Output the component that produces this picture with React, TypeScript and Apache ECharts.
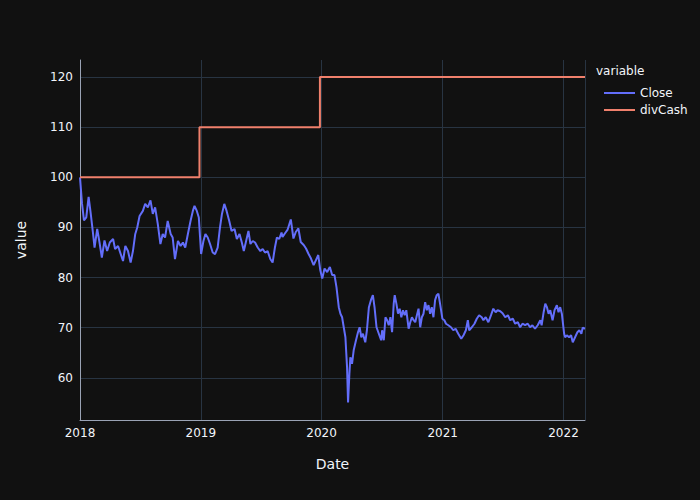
import React, { useEffect, useRef } from "react";
import * as echarts from "echarts";

const closeDates = [
  "2018-01-01","2018-01-07","2018-01-13","2018-01-20","2018-01-27","2018-02-02","2018-02-09","2018-02-14","2018-02-22","2018-03-01",
  "2018-03-08","2018-03-16","2018-03-24","2018-04-01","2018-04-11","2018-04-17","2018-04-26","2018-05-06","2018-05-11","2018-05-18",
  "2018-05-26","2018-06-03","2018-06-10","2018-06-17","2018-06-23","2018-06-30","2018-07-10","2018-07-17","2018-07-25","2018-08-02",
  "2018-08-09","2018-08-16","2018-08-24","2018-09-01","2018-09-08","2018-09-15","2018-09-23","2018-10-02","2018-10-08","2018-10-15",
  "2018-10-24","2018-11-01","2018-11-08","2018-11-15","2018-11-23","2018-12-01","2018-12-08","2018-12-13","2018-12-20","2018-12-26",
  "2019-01-02","2019-01-09","2019-01-15","2019-01-22","2019-01-29","2019-02-06","2019-02-13","2019-02-21","2019-02-28","2019-03-06",
  "2019-03-13","2019-03-20","2019-03-28","2019-04-04","2019-04-13","2019-04-20","2019-04-28","2019-05-05","2019-05-11","2019-05-18",
  "2019-05-25","2019-05-31","2019-06-07","2019-06-14","2019-06-22","2019-06-30","2019-07-07","2019-07-14","2019-07-22","2019-07-30",
  "2019-08-06","2019-08-13","2019-08-19","2019-08-26","2019-09-02","2019-09-05","2019-09-12","2019-09-20","2019-09-30","2019-10-08",
  "2019-10-15","2019-10-23","2019-10-30","2019-11-08","2019-11-15","2019-11-22","2019-11-30","2019-12-08","2019-12-15","2019-12-22",
  "2019-12-28","2020-01-03","2020-01-10","2020-01-18","2020-01-26","2020-02-02","2020-02-09","2020-02-15","2020-02-22","2020-02-27",
  "2020-03-03","2020-03-08","2020-03-13","2020-03-18","2020-03-21","2020-03-25","2020-03-28","2020-04-02","2020-04-07","2020-04-14",
  "2020-04-20","2020-04-25","2020-04-30","2020-05-05","2020-05-12","2020-05-17","2020-05-23","2020-05-29","2020-06-04","2020-06-09",
  "2020-06-15","2020-06-22","2020-06-29","2020-07-02","2020-07-07","2020-07-12","2020-07-17","2020-07-22","2020-07-27","2020-08-01",
  "2020-08-06","2020-08-09","2020-08-14","2020-08-19","2020-08-24","2020-08-29","2020-09-03","2020-09-08","2020-09-13","2020-09-20",
  "2020-09-25","2020-09-30","2020-10-05","2020-10-10","2020-10-15","2020-10-20","2020-10-25","2020-10-30","2020-11-04","2020-11-09",
  "2020-11-14","2020-11-19","2020-11-24","2020-11-29","2020-12-04","2020-12-09","2020-12-14","2020-12-19","2020-12-24","2020-12-31",
  "2021-01-06","2021-01-11","2021-01-18","2021-01-26","2021-02-02","2021-02-09","2021-02-17","2021-02-26","2021-03-05","2021-03-12",
  "2021-03-18","2021-03-22","2021-03-30","2021-04-07","2021-04-14","2021-04-21","2021-04-29","2021-05-04","2021-05-11","2021-05-19",
  "2021-05-27","2021-06-03","2021-06-10","2021-06-16","2021-06-24","2021-07-01","2021-07-09","2021-07-17","2021-07-24","2021-08-01",
  "2021-08-08","2021-08-16","2021-08-23","2021-08-30","2021-09-07","2021-09-15","2021-09-22","2021-09-29","2021-10-07","2021-10-15",
  "2021-10-23","2021-10-27","2021-11-02","2021-11-07","2021-11-12","2021-11-17","2021-11-22","2021-11-29","2021-12-05","2021-12-12",
  "2021-12-17","2021-12-22","2021-12-27","2022-01-03","2022-01-06","2022-01-11","2022-01-18","2022-01-24","2022-01-29","2022-02-05",
  "2022-02-12","2022-02-18","2022-02-24","2022-02-28","2022-03-07"
];

const closeValues = [
  100, 94.8, 91.4, 92, 96.1, 93, 89, 86, 89.7, 87,
  84, 87.4, 85.3, 87, 87.7, 85.7, 86.3, 84.3, 83.3, 86.3,
  85.3, 83, 85.3, 88.7, 90, 92.3, 93.3, 94.7, 94, 95.4,
  92.7, 94, 90.7, 86.7, 88.7, 88, 91.3, 88.7, 88, 83.7,
  87.3, 86.3, 87, 86, 88.7, 91.3, 93.3, 94.3, 93.3, 92,
  84.7, 87.3, 88.7, 88, 86.7, 85, 84.7, 86, 90, 92.7,
  94.7, 93.3, 91.3, 89.3, 89.7, 87.7, 88.7, 87, 85.3, 87.3,
  89.3, 86.7, 87.3, 87, 86, 85.3, 85.7, 85, 85.3, 83.7,
  83, 86, 88, 87.7, 89, 88.1, 88.8, 89.5, 91.6, 87.8,
  89.1, 89.8, 87.1, 86.5, 85.8, 84.8, 83.8, 82.5, 83.5, 84.5,
  81.5, 79.8, 81.8, 81.1, 82.1, 80.5, 80.5, 78.1, 74.1, 72.8,
  72.1, 70.1, 68.1, 62.1, 55.1, 60.8, 64.1, 62.8, 65.5, 67.5,
  69.1, 70.1, 68.1, 68.8, 67.1, 69.5, 74.1, 75.5, 76.5, 74.1,
  70.1, 68.8, 67.5, 69.5, 67.5, 72.1, 71.5, 70.5, 72.1, 69.1,
  74.8, 76.5, 74.8, 72.8, 73.8, 72.1, 73.5, 72.5, 73.5, 69.8,
  71.1, 72.1, 71.5, 71.1, 72.5, 73.8, 70.1, 72.1, 72.8, 75.1,
  73.5, 74.5, 72.8, 74.1, 72.1, 75.5, 76.5, 76.8, 74.8, 71.8,
  71.5, 70.8, 70.5, 70.1, 69.5, 69.8, 68.8, 67.8, 68.5, 69.5,
  71.5, 69.5, 70.1, 70.8, 71.8, 72.5, 72.1, 71.5, 72.1, 71.1,
  72.5, 73.8, 73.1, 73.5, 73.3, 72.9, 72.1, 72.5, 71.5, 71.8,
  70.8, 71.1, 70.1, 70.8, 70.5, 70.8, 70.1, 70.5, 69.8, 70.5,
  71.5, 70.5, 73.1, 74.8, 74.1, 72.8, 73.5, 71.5, 73.5, 74.5,
  73.1, 74.1, 72.8, 68.8, 68.1, 68.5, 68.1, 68.5, 67.1, 68.1,
  69.1, 69.5, 68.8, 70.0, 69.8
];

const divDates = ["2018-01-01", "2018-12-28", "2019-12-27", "2022-03-07"];
const divValues = [100, 110, 120, 120];

const yTickValues = [60, 70, 80, 90, 100, 110, 120];
const seriesNames = ["Close", "divCash"];

const FONT = "'DejaVu Sans', Verdana, sans-serif";
const TXT = "#f2f5fa";

export default function App() {
  const ref = useRef<HTMLDivElement>(null);
  useEffect(() => {
    if (!ref.current) return;
    const chart = echarts.init(ref.current, undefined, { renderer: "svg" });
    const closeData = closeDates.map((d, i) => [d, closeValues[i]]);
    const divData = divDates.map((d, i) => [d, divValues[i]]);
    chart.setOption({
      animation: false,
      backgroundColor: "#111111",
      textStyle: { fontFamily: FONT },
      grid: { left: 80, right: 115, top: 60, bottom: 80, containLabel: false },
      graphic: [
        {
          type: "text",
          left: 596,
          top: 65,
          style: { text: "variable", fill: TXT, fontSize: 12, fontFamily: FONT },
        },
      ],
      legend: {
        data: seriesNames.map((n) => ({ name: n, icon: "rect" })),
        orient: "vertical",
        left: 599,
        top: 82,
        itemWidth: 31,
        itemHeight: 2,
        itemGap: 5,
        textStyle: { color: TXT, fontSize: 12, fontFamily: FONT, padding: [0, 0, 0, 0] },
      },
      xAxis: {
        type: "time",
        min: "2018-01-01",
        max: "2022-03-07",
        minInterval: 365 * 24 * 3600 * 1000,
        name: "Date",
        nameLocation: "middle",
        nameGap: 37,
        nameTextStyle: { color: TXT, fontSize: 14, fontFamily: FONT },
        axisLine: { show: true, lineStyle: { color: "#9aa3b5", width: 1 } },
        axisTick: { show: false },
        axisLabel: {
          color: TXT,
          fontSize: 12,
          fontFamily: FONT,
          margin: 7,
          showMinLabel: true,
          formatter: (v: number) => String(new Date(v).getFullYear()),
        },
        splitLine: { show: true, lineStyle: { color: "#283442", width: 1 } },
      },
      yAxis: {
        type: "value",
        min: 51.6,
        max: 123.4,
        name: "value",
        nameLocation: "middle",
        nameGap: 52,
        nameTextStyle: { color: TXT, fontSize: 14, fontFamily: FONT },
        axisLine: { show: true, lineStyle: { color: "#9aa3b5", width: 1 } },
        axisTick: { show: false },
        axisLabel: {
          color: TXT,
          fontSize: 12,
          fontFamily: FONT,
          margin: 7,
          showMinLabel: false,
          showMaxLabel: false,
          formatter: (v: number) => (yTickValues.includes(Math.round(v)) && Math.abs(v - Math.round(v)) < 1e-6 ? String(Math.round(v)) : ""),
        },
        splitLine: { show: true, showMinLine: false, showMaxLine: false, lineStyle: { color: "#283442", width: 1 } },
      },
      series: [
        {
          name: "Close",
          type: "line",
          data: closeData,
          symbol: "none",
          lineStyle: { color: "#636efa", width: 2 },
          itemStyle: { color: "#636efa" },
        },
        {
          name: "divCash",
          type: "line",
          data: divData,
          step: "end",
          symbol: "none",
          lineStyle: { color: "#f0806c", width: 2 },
          itemStyle: { color: "#f0806c" },
        },
      ],
    });
    return () => chart.dispose();
  }, []);
  return (
    <div
      ref={ref}
      style={{ position: "absolute", left: 0, top: 0, width: 700, height: 500, background: "#111111" }}
    />
  );
}
